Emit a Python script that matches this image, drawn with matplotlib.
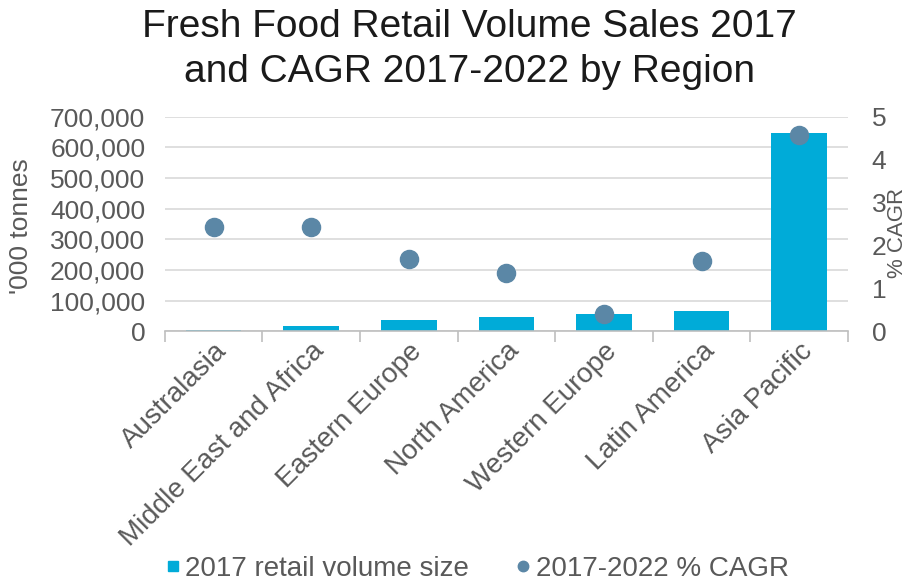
import numpy as np
import matplotlib
matplotlib.use("Agg")
from matplotlib import pyplot as plt
from matplotlib.ticker import FuncFormatter
from matplotlib.lines import Line2D

plt.rcParams['font.family'] = ['Liberation Sans', 'DejaVu Sans']

regions = ["Australasia", "Middle East and Africa", "Eastern Europe",
           "North America", "Western Europe", "Latin America", "Asia Pacific"]
volume_2017 = [3000, 18000, 36000, 47000, 55000, 67000, 646000]
cagr = [2.43, 2.43, 1.68, 1.36, 0.40, 1.64, 4.58]

bar_col = "#00abd8"
dot_col = "#5b87a6"
grey = "#595959"

fig = plt.figure(figsize=(9.1, 5.81), dpi=100)
ax = fig.add_axes([0.181, 0.430, 0.751, 0.369])
ax2 = ax.twinx()

x = np.arange(len(regions))
ax.bar(x, volume_2017, width=0.57, color=bar_col, zorder=2)
ax2.scatter(x, cagr, s=170, color=dot_col, zorder=3)

ax.set_xlim(-0.5, len(regions) - 0.5)
ax.set_ylim(0, 700000)
ax.set_yticks(np.arange(0, 700001, 100000))
ax.yaxis.set_major_formatter(FuncFormatter(lambda v, p: f"{int(v):,}"))
ax2.set_ylim(0, 5)
ax2.set_yticks(range(6))

ax.grid(axis='y', color="#d9d9d9", linewidth=1.2, zorder=0)
ax.set_axisbelow(True)
for a in (ax, ax2):
    for s in ('top', 'left', 'right', 'bottom'):
        a.spines[s].set_visible(False)
ax.spines['bottom'].set_visible(True)
ax.spines['bottom'].set_color("#bfbfbf")
ax.spines['bottom'].set_linewidth(1.2)

ax.set_xticks(np.arange(-0.5, len(regions), 1.0))
ax.set_xticklabels([])
ax.set_xticks(x, minor=True)
ax.set_xticklabels(regions, minor=True, rotation=45, ha='right',
                   rotation_mode='anchor', fontsize=20, color=grey)
ax.tick_params(axis='x', which='major', length=8, color="#bfbfbf", width=1.2)
ax.tick_params(axis='x', which='minor', length=0, pad=5)
ax.tick_params(axis='y', length=0, labelsize=19, labelcolor=grey, pad=14)
ax2.tick_params(axis='y', length=0, labelsize=19, labelcolor=grey, pad=17)

ax.set_ylabel("'000 tonnes", fontsize=19, color=grey)
ax.yaxis.set_label_coords(-0.193, 0.49)
ax2.set_ylabel("% CAGR", fontsize=16, color=grey, rotation=90)
ax2.yaxis.set_label_coords(1.057, 0.46)

fig.text(0.516, 0.985, "Fresh Food Retail Volume Sales 2017\nand CAGR 2017-2022 by Region",
         ha='center', va='top', fontsize=28, color="#1a1a1a", linespacing=1.33)

handles = [Line2D([], [], marker='s', linestyle='none', color=bar_col, markersize=7),
           Line2D([], [], marker='o', linestyle='none', color=dot_col, markersize=7.5)]
fig.legend(handles, ["2017 retail volume size", "2017-2022 % CAGR"],
           loc='lower center', bbox_to_anchor=(0.523, -0.045), ncol=2, frameon=False,
           fontsize=20, labelcolor=grey, handletextpad=0.1, columnspacing=1.6,
           handlelength=0.7)

fig.savefig("out.png", dpi=100)
